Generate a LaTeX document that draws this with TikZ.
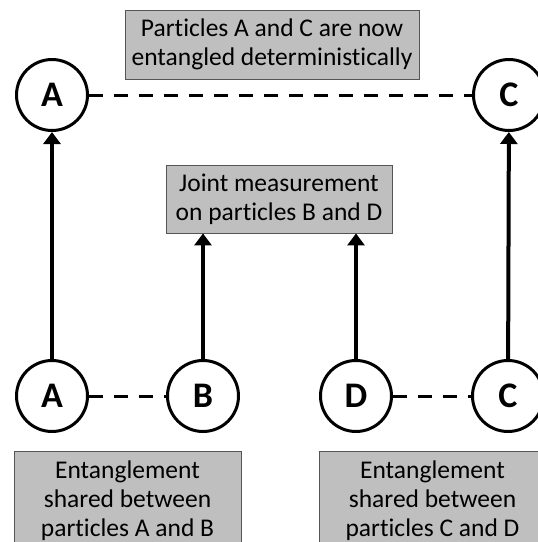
\documentclass[tikz,border=0pt]{standalone}
\usepackage{fontspec}
\setmainfont{Carlito}[Ligatures=NoCommon]
\usepackage{tikz}
\usetikzlibrary{positioning, arrows.meta}
\definecolor{boxgray}{RGB}{191, 191, 191}
\definecolor{boxedge}{RGB}{85, 85, 85}

\begin{document}
\begin{tikzpicture}[x=1pt, y=-1pt,
    particle/.style={circle, draw, line width=3pt, minimum size=71pt, inner sep=0pt,
        font=\fontsize{36}{36}\selectfont\bfseries},
    infobox/.style={rectangle, draw=boxedge, line width=0.8pt, fill=boxgray,
        align=center, inner sep=0pt, font=\fontsize{25.5}{29}\selectfont},
    link/.style={line width=3pt, dash pattern=on 14pt off 11pt},
    measure/.style={line width=4pt, -{Triangle[width=17pt, length=12pt]}}]
    \useasboundingbox (0,0) rectangle (538,542);

    % Particules (rangee du haut et du bas)
    \node[particle] (topA) at (52,95) {A};
    \node[particle] (topC) at (509,95) {C};
    \node[particle] (botA) at (52,396) {A};
    \node[particle] (botB) at (203,396) {B};
    \node[particle] (botD) at (356,396) {D};
    \node[particle] (botC) at (508,396) {C};

    % Boites de texte
    \node[infobox, minimum width=294pt, minimum height=69pt] (resultbox) at (272,44.5)
        {Particles A and C are now\\entangled deterministically};
    \node[infobox, minimum width=226pt, minimum height=68pt] (measbox) at (279,199)
        {Joint measurement\\on particles B and D};
    \node[infobox, minimum width=227pt, minimum height=98pt, anchor=north] (pairABbox) at (127.5,451)
        {Entanglement\\shared between\\particles A and B};
    \node[infobox, minimum width=227pt, minimum height=98pt, anchor=north] (pairCDbox) at (432.5,451)
        {Entanglement\\shared between\\particles C and D};

    % Intrication (pointilles)
    \draw[link] (topA) -- (topC);
    \draw[link] (botA) -- (botB);
    \draw[link] (botD) -- (botC);

    % Fleches vers le haut
    \draw[measure] (botA) -- (topA);
    \draw[measure] (botC) -- (topC);
    \draw[measure] (botB) -- (botB |- measbox.south);
    \draw[measure] (botD) -- (botD |- measbox.south);
\end{tikzpicture}
\end{document}
